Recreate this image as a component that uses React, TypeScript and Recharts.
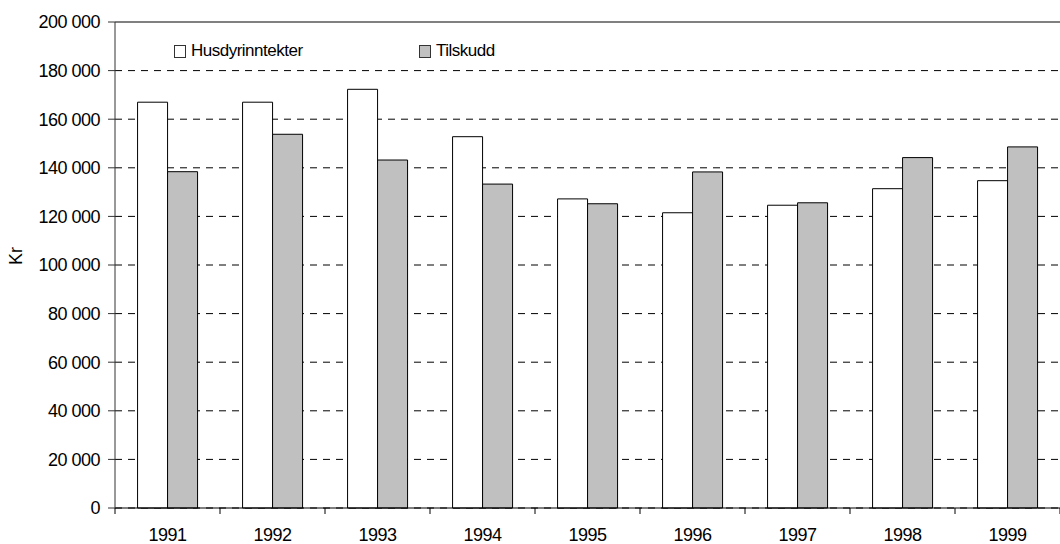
import {
  BarChart,
  Bar,
  XAxis,
  YAxis,
  CartesianGrid,
  Legend,
  ReferenceLine,
} from 'recharts';

const years = ['1991', '1992', '1993', '1994', '1995', '1996', '1997', '1998', '1999'];
const husdyrinntekter = [167000, 167000, 172300, 152800, 127200, 121500, 124600, 131400, 134700];
const tilskudd = [138400, 153800, 143200, 133300, 125200, 138300, 125600, 144200, 148600];
const yTicks = [0, 20000, 40000, 60000, 80000, 100000, 120000, 140000, 160000, 180000, 200000];

const data = years.map((year, i) => ({
  year,
  husdyr: husdyrinntekter[i],
  tilskudd: tilskudd[i],
}));

const FONT = '"Liberation Sans", Arial, sans-serif';
const CHART_W = 1060;
const AXIS_W = 115;
const BAND = (CHART_W - AXIS_W) / years.length;

// mellomrom som tusenskille: 200 000
const fmt = (v: number) => String(v).replace(/\B(?=(\d{3})+(?!\d))/g, ' ');

// årstall under, tikkmerker mellom kategoriene
function YearTick(props: any) {
  const { x, y, payload, index } = props;
  const left = x - BAND / 2;
  return (
    <g>
      <line x1={left} x2={left} y1={y - 20} y2={y - 14} stroke="#000" />
      {index === years.length - 1 && (
        <line x1={left + BAND} x2={left + BAND} y1={y - 20} y2={y - 14} stroke="#000" />
      )}
      <text
        x={x}
        y={y}
        dy={13}
        textAnchor="middle"
        fill="#000"
        fontSize={18}
        fontFamily={FONT}
        letterSpacing={-0.5}
      >
        {payload.value}
      </text>
    </g>
  );
}

function ChartLegend() {
  const item = (fill: string, text: string, width: number) => (
    <div style={{ display: 'flex', alignItems: 'center', width }}>
      <span
        style={{
          display: 'inline-block',
          width: 10,
          height: 11,
          background: fill,
          border: '1px solid #333',
          marginRight: 5,
        }}
      />
      <span style={{ fontSize: 17, letterSpacing: -0.5, color: '#000' }}>{text}</span>
    </div>
  );
  return (
    <div style={{ display: 'flex', fontFamily: FONT }}>
      {item('#ffffff', 'Husdyrinntekter', 245)}
      {item('#c0c0c0', 'Tilskudd', 120)}
    </div>
  );
}

export default function App() {
  return (
    <div style={{ position: 'absolute', left: 0, top: 0, background: '#fff', fontFamily: FONT }}>
      <BarChart
        width={CHART_W}
        height={544}
        data={data}
        margin={{ top: 22, right: 0, bottom: 0, left: 0 }}
        barCategoryGap="21.5%"
        barGap={0}
      >
        <CartesianGrid vertical={false} stroke="#000" strokeDasharray="7 6" />
        <XAxis
          dataKey="year"
          height={36}
          axisLine={{ stroke: '#000' }}
          tickLine={false}
          tickSize={0}
          tickMargin={20}
          tick={<YearTick />}
          interval={0}
        />
        <YAxis
          width={AXIS_W}
          domain={[0, 200000]}
          ticks={yTicks}
          tickFormatter={fmt}
          axisLine={{ stroke: '#333' }}
          tickLine={{ stroke: '#333' }}
          tickSize={7}
          tickMargin={8}
          tick={{ fill: '#000', fontSize: 18, fontFamily: FONT, letterSpacing: -0.5 }}
          label={{
            value: 'Kr',
            angle: -90,
            position: 'insideLeft',
            offset: 16,
            style: { fill: '#000', fontSize: 18, fontFamily: FONT },
          }}
        />
        <ReferenceLine y={200000} stroke="#808080" strokeWidth={2} />
        <Legend
          verticalAlign="middle"
          layout="horizontal"
          content={() => <ChartLegend />}
          wrapperStyle={{ position: 'absolute', top: 41, left: 174, width: 'auto' }}
        />
        <Bar
          dataKey="husdyr"
          name="Husdyrinntekter"
          fill="#ffffff"
          stroke="#000"
          strokeWidth={1}
          isAnimationActive={false}
        />
        <Bar
          dataKey="tilskudd"
          name="Tilskudd"
          fill="#c0c0c0"
          stroke="#000"
          strokeWidth={1}
          isAnimationActive={false}
        />
      </BarChart>
    </div>
  );
}
